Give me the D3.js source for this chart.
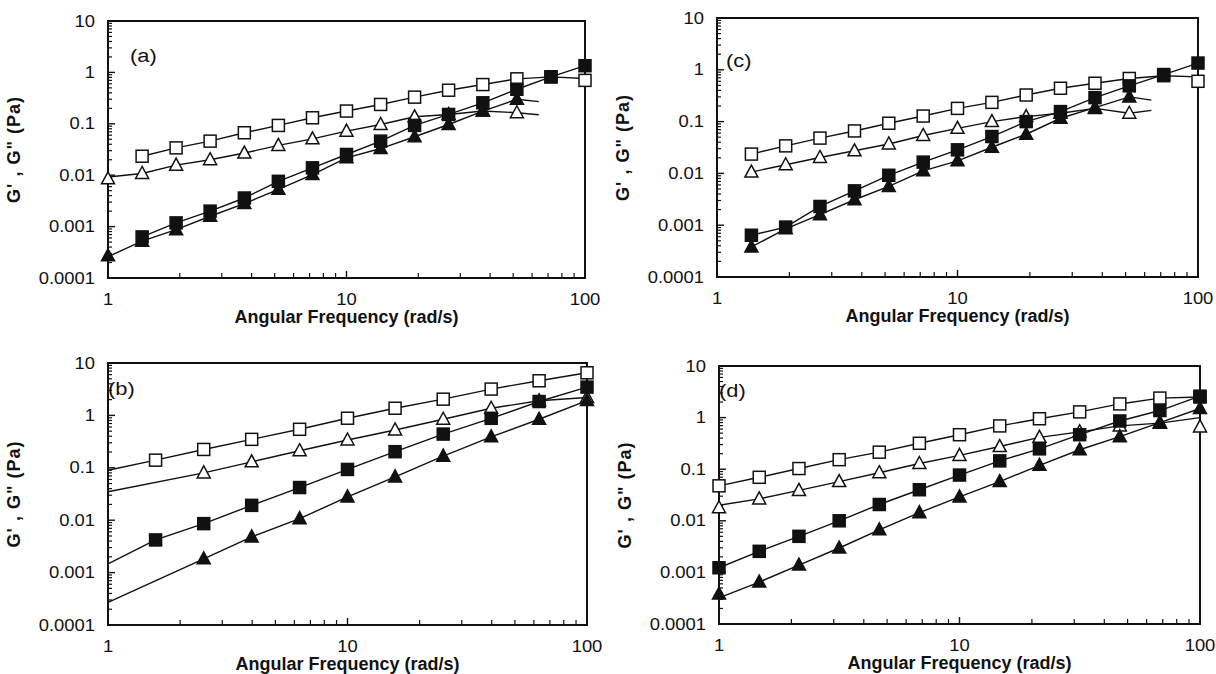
<!DOCTYPE html>
<html><head><meta charset="utf-8">
<script src="https://cdn.jsdelivr.net/npm/d3@7"></script>
<style>body{margin:0;background:#fff}</style></head>
<body><svg id="chart" width="1216" height="674"></svg>
<script>
// ---------- data ----------
const freqAC = [1,1.39,1.93,2.68,3.73,5.18,7.2,10,13.9,19.3,26.8,37.3,51.8,72,100];
const freqB  = [1.58,2.51,3.98,6.31,10,15.8,25.1,39.8,63.1,100];
const freqD  = [1,1.47,2.15,3.16,4.64,6.81,10,14.7,21.5,31.6,46.4,68.1,100];
const xTicks = [1,10,100];
const xTickLabels = ["1","10","100"];
const yTicks = [0.0001,0.001,0.01,0.1,1,10];
const yTickLabels = ["0.0001","0.001","0.01","0.1","1","10"];
const xTitle = "Angular Frequency (rad/s)";
const yTitle = "G' , G\" (Pa)";
const panelLabels = ["(a)","(b)","(c)","(d)"];

// panel (a)
const aOpenSq  = [null,0.0234,0.034,0.046,0.067,0.093,0.131,0.177,0.238,0.33,0.45,0.58,0.75,0.82,0.70];
const aOpenTri = [0.0085,0.0108,0.0157,0.020,0.027,0.038,0.051,0.072,0.097,0.137,0.152,0.177,0.164,null,null];
const aFillSq  = [null,0.00063,0.00118,0.0020,0.0036,0.0076,0.0139,0.0253,0.046,0.093,0.152,0.256,0.47,0.82,1.35];
const aFillTri = [0.00027,0.00052,0.00087,0.00159,0.0028,0.0053,0.0103,0.0218,0.033,0.056,0.097,0.177,0.30,null,null];
const aOpenSqExt  = [null,[100,0.76]];
const aOpenTriExt = [[1,0.0092],[64,0.15]];
const aFillSqExt  = [null,null];
const aFillTriExt = [[1,0.00026],[64,0.27]];

// panel (c)
const cOpenSq  = [null,0.0236,0.034,0.048,0.066,0.093,0.128,0.18,0.235,0.326,0.44,0.55,0.68,0.77,0.60];
const cOpenTri = [null,0.0106,0.0147,0.0203,0.0273,0.037,0.054,0.074,0.1,0.125,0.145,0.18,0.145,null,null];
const cFillSq  = [null,0.00064,0.00092,0.0023,0.0046,0.0092,0.0165,0.0285,0.0515,0.1,0.156,0.29,0.49,0.81,1.35];
const cFillTri = [null,0.00038,0.00085,0.0016,0.0031,0.0056,0.0112,0.0175,0.032,0.057,0.116,0.186,0.30,null,null];
const cOpenSqExt  = [null,[100,0.73]];
const cOpenTriExt = [null,[64,0.165]];
const cFillSqExt  = [null,null];
const cFillTriExt = [null,[64,0.26]];

// panel (b)
const bOpenSq  = [0.14,0.224,0.349,0.543,0.883,1.37,2.04,3.18,4.58,6.5];
const bOpenTri = [null,0.080,0.130,0.212,0.339,0.527,0.845,1.37,1.9,2.2];
const bFillSq  = [0.0042,0.0086,0.0192,0.042,0.093,0.203,0.44,0.88,1.84,3.47];
const bFillTri = [null,0.00183,0.0048,0.0107,0.0278,0.067,0.167,0.39,0.845,1.92];
const bOpenSqExt  = [[1,0.09],null];
const bOpenTriExt = [[1,0.035],null];
const bFillSqExt  = [[1,0.00147],null];
const bFillTriExt = [[1,0.00027],null];

// panel (d)
const dOpenSq  = [0.0476,0.0697,0.103,0.153,0.214,0.318,0.466,0.69,0.95,1.29,1.84,2.39,2.5];
const dOpenTri = [0.0179,0.0266,0.0388,0.0576,0.0855,0.129,0.185,0.275,0.414,0.53,0.69,0.78,0.66];
const dFillSq  = [0.00123,0.00256,0.0050,0.0100,0.0207,0.040,0.077,0.145,0.248,0.466,0.86,1.37,2.6];
const dFillTri = [0.00038,0.00065,0.00139,0.00297,0.0067,0.0144,0.029,0.0576,0.119,0.238,0.427,0.80,1.5];
const dOpenSqExt  = [null,null];
const dOpenTriExt = [[1,0.02],[100,1.0]];
const dFillSqExt  = [null,null];
const dFillTriExt = [[1,0.00032],null];

// ---------- layout ----------
const panels = [
  {label:panelLabels[0], box:{l:108,r:585,t:21,b:278}, freq:freqAC, lab:{x:130,y:62},
   series:[[aOpenSq,aOpenSqExt,"sq",false],[aOpenTri,aOpenTriExt,"tri",false],[aFillSq,aFillSqExt,"sq",true],[aFillTri,aFillTriExt,"tri",true]]},
  {label:panelLabels[1], box:{l:108,r:587,t:363,b:625}, freq:freqB, lab:{x:108,y:395},
   series:[[bOpenSq,bOpenSqExt,"sq",false],[bOpenTri,bOpenTriExt,"tri",false],[bFillSq,bFillSqExt,"sq",true],[bFillTri,bFillTriExt,"tri",true]]},
  {label:panelLabels[2], box:{l:717,r:1198,t:18,b:277}, freq:freqAC, lab:{x:726,y:67},
   series:[[cOpenSq,cOpenSqExt,"sq",false],[cOpenTri,cOpenTriExt,"tri",false],[cFillSq,cFillSqExt,"sq",true],[cFillTri,cFillTriExt,"tri",true]]},
  {label:panelLabels[3], box:{l:719,r:1200,t:366,b:624}, freq:freqD, lab:{x:719,y:397},
   series:[[dOpenSq,dOpenSqExt,"sq",false],[dOpenTri,dOpenTriExt,"tri",false],[dFillSq,dFillSqExt,"sq",true],[dFillTri,dFillTriExt,"tri",true]]}
];

const svg = d3.select("#chart");
const FONT = "'Liberation Sans', Arial, Helvetica, sans-serif";
const SX = 1.15; // horizontal stretch of the scanned lettering

function stretchedText(g, x, y, txt, size, anchor, weight) {
  return g.append("text")
    .attr("transform", `translate(${x},${y}) scale(${SX},1)`)
    .attr("text-anchor", anchor)
    .attr("font-family", FONT)
    .attr("font-size", size)
    .attr("font-weight", weight || "normal")
    .attr("fill", "#111")
    .text(txt);
}

panels.forEach(p => {
  const B = p.box;
  const x = d3.scaleLog().domain([1,100]).range([B.l, B.r]);
  const y = d3.scaleLog().domain([0.0001,10]).range([B.b, B.t]);
  const g = svg.append("g");

  // minor ticks on y (inward)
  const yMinor = [];
  for (let e = -4; e < 1; e++) for (let m = 2; m <= 9; m++) yMinor.push(m * Math.pow(10, e));
  g.selectAll(".ymin").data(yMinor).enter().append("line")
    .attr("x1", B.l).attr("x2", B.l + 4)
    .attr("y1", d => y(d)).attr("y2", d => y(d))
    .attr("stroke", "#111").attr("stroke-width", 1.2);
  g.selectAll(".ymaj").data(yTicks).enter().append("line")
    .attr("x1", B.l).attr("x2", B.l + 7)
    .attr("y1", d => y(d)).attr("y2", d => y(d))
    .attr("stroke", "#111").attr("stroke-width", 1.4);

  // minor ticks on x (inward, upward)
  const xMinor = [];
  for (let e = 0; e < 2; e++) for (let m = 2; m <= 9; m++) xMinor.push(m * Math.pow(10, e));
  g.selectAll(".xmin").data(xMinor).enter().append("line")
    .attr("x1", d => x(d)).attr("x2", d => x(d))
    .attr("y1", B.b).attr("y2", B.b - 5)
    .attr("stroke", "#111").attr("stroke-width", 1.2);
  g.selectAll(".xmaj").data(xTicks).enter().append("line")
    .attr("x1", d => x(d)).attr("x2", d => x(d))
    .attr("y1", B.b).attr("y2", B.b - 7)
    .attr("stroke", "#111").attr("stroke-width", 1.4);

  // frame
  g.append("rect").attr("x", B.l).attr("y", B.t)
    .attr("width", B.r - B.l).attr("height", B.b - B.t)
    .attr("fill", "none").attr("stroke", "#111").attr("stroke-width", 2);

  // tick labels
  yTicks.forEach((v, i) => stretchedText(g, B.l - 13, y(v) + 5.5, yTickLabels[i], 16, "end"));
  xTicks.forEach((v, i) => stretchedText(g, x(v), B.b + 27, xTickLabels[i], 16, "middle"));

  // axis titles
  g.append("text").attr("x", (B.l + B.r) / 2).attr("y", B.b + 45)
    .attr("text-anchor", "middle").attr("font-family", FONT)
    .attr("font-size", 18).attr("font-weight", "bold").attr("fill", "#111")
    .text(xTitle);
  g.append("text")
    .attr("transform", `translate(${B.l - 88},${(B.t + B.b) / 2}) rotate(-90)`)
    .attr("text-anchor", "middle").attr("font-family", FONT)
    .attr("font-size", 18).attr("font-weight", "bold").attr("fill", "#111")
    .attr("letter-spacing", 1)
    .text(yTitle);

  // panel label
  stretchedText(g, p.lab.x, p.lab.y, p.label, 19, "start");

  const line = d3.line().x(d => x(d[0])).y(d => y(d[1]));

  // lines first
  p.series.forEach(([vals, ext]) => {
    let pts = p.freq.map((f, i) => [f, vals[i]]).filter(d => d[1] != null);
    if (ext[0]) pts = [ext[0]].concat(pts.filter(d => d[0] > ext[0][0] * 1.001));
    if (ext[1]) pts = pts.filter(d => d[0] < ext[1][0] * 0.999).concat([ext[1]]);
    g.append("path").attr("d", line(pts))
      .attr("fill", "none").attr("stroke", "#111").attr("stroke-width", 1.4);
  });

  // markers
  p.series.forEach(([vals, ext, shape, filled]) => {
    const pts = p.freq.map((f, i) => [f, vals[i]]).filter(d => d[1] != null);
    if (shape === "sq") {
      g.selectAll(null).data(pts).enter().append("rect")
        .attr("x", d => x(d[0]) - 6).attr("y", d => y(d[1]) - 6)
        .attr("width", 12).attr("height", 12)
        .attr("fill", filled ? "#111" : "#fff")
        .attr("stroke", "#111").attr("stroke-width", 1.5);
    } else {
      g.selectAll(null).data(pts).enter().append("path")
        .attr("d", d => {
          const cx = x(d[0]), cy = y(d[1]);
          return `M${cx},${cy - 7}L${cx + 6.5},${cy + 5}L${cx - 6.5},${cy + 5}Z`;
        })
        .attr("fill", filled ? "#111" : "#fff")
        .attr("stroke", "#111").attr("stroke-width", 1.5);
    }
  });
});
</script>
</body></html>
